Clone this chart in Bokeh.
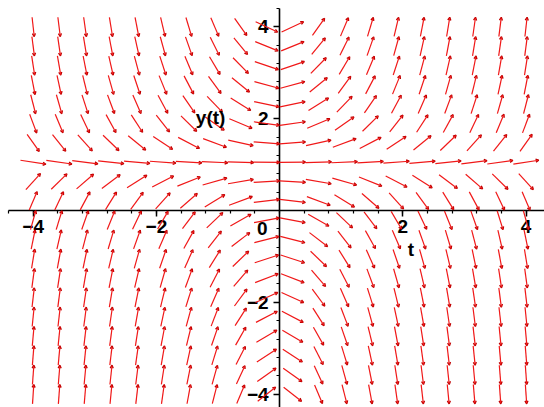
import numpy as np
from bokeh.plotting import figure
from bokeh.models import (ColumnDataSource, Arrow, OpenHead, LinearAxis,
                          FixedTicker, Range1d, Label)
from bokeh.embed import file_html
from bokeh.resources import INLINE

# Direction field of dy/dt = t*(y - 1) on a 20 x 20 grid over [-4, 4] x [-4, 4]
t_grid = np.linspace(-4, 4, 20)
y_grid = np.linspace(-4, 4, 20)
x_major_ticks = [-4, -2, 2, 4]
y_major_ticks = [-4, -2, 2, 4]
minor_ticks = [round(-4.4 + 0.4 * k, 2) for k in range(23)]
origin_label = "0"
x_label = "t"
y_label = "y(t)"


def slope(t, y):
    return t * (y - 1.0)


T, Y = np.meshgrid(t_grid, y_grid)
S = slope(T, Y)
cell = t_grid[1] - t_grid[0]
half = 0.5 * cell
norm = np.sqrt(1.0 + S ** 2)
dx = half / norm
dy = half * S / norm

src = ColumnDataSource(dict(
    x0=(T - dx).ravel(), y0=(Y - dy).ravel(),
    x1=(T + dx).ravel(), y1=(Y + dy).ravel(),
))

p = figure(width=544, height=407, output_backend="svg", toolbar_location=None,
           x_range=Range1d(-4.53, 4.30), y_range=Range1d(-4.29, 4.575),
           x_axis_type=None, y_axis_type=None, min_border=0,
           outline_line_color=None, background_fill_color="white")
p.grid.visible = False

red = "#f01818"
p.add_layout(Arrow(x_start="x0", y_start="y0", x_end="x1", y_end="y1",
                   source=src, line_color=red, line_width=1.2,
                   end=OpenHead(size=3, line_color="#c00000", line_width=1.4)))

font = "Liberation Sans"


def style(ax):
    ax.bounds = (-4.4, 4.4)
    ax.axis_line_color = "black"
    ax.axis_line_width = 1.6
    ax.major_tick_line_color = "black"
    ax.minor_tick_line_color = "black"
    ax.major_tick_line_width = 1.5
    ax.minor_tick_line_width = 1.2
    ax.major_tick_out = 6
    ax.major_tick_in = 0
    ax.minor_tick_out = 3
    ax.minor_tick_in = 0
    ax.major_label_text_font = font
    ax.major_label_text_font_style = "bold"
    ax.major_label_text_font_size = "19px"
    ax.major_label_text_color = "black"


xaxis = LinearAxis(fixed_location=0,
                   ticker=FixedTicker(ticks=x_major_ticks, minor_ticks=minor_ticks))
style(xaxis)
xaxis.major_label_standoff = 3
p.add_layout(xaxis, "below")

yaxis = LinearAxis(fixed_location=0,
                   ticker=FixedTicker(ticks=y_major_ticks, minor_ticks=minor_ticks))
style(yaxis)
yaxis.major_label_standoff = 5
p.add_layout(yaxis, "left")

for txt, x, y in [(origin_label, -0.28, -0.39), (x_label, 2.13, -0.85),
                  (y_label, -1.12, 2.03)]:
    p.add_layout(Label(x=x, y=y, text=txt, text_align="center",
                       text_baseline="middle", text_font=font,
                       text_font_style="bold", text_font_size="19px",
                       text_color="black"))

open("out.html", "w").write(file_html(p, INLINE))
